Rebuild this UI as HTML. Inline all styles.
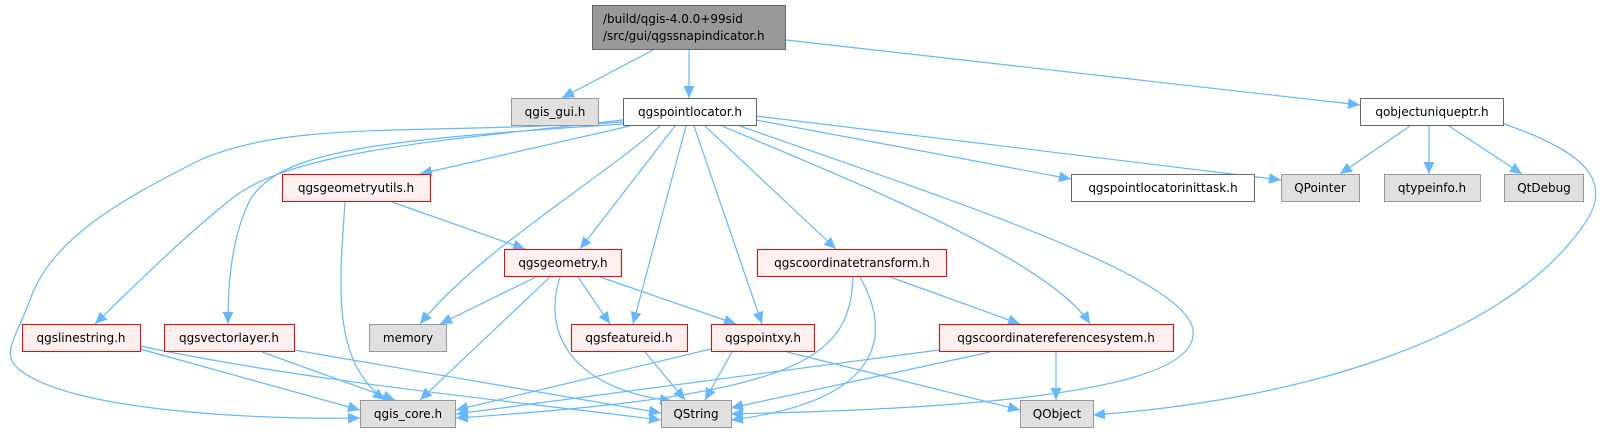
<!DOCTYPE html>
<html><head><meta charset="utf-8"><style>
html,body{margin:0;padding:0;background:#fff;}
svg{display:block;}
text{font-family:"DejaVu Sans","Liberation Sans",sans-serif;font-size:12px;fill:#000;}
.e{fill:none;stroke:#63b8ff;stroke-width:1.2;}
.w{fill:#fff;stroke:#666;stroke-width:1;}
.g{fill:#e0e0e0;stroke:#999;stroke-width:1;}
.r{fill:#fff0f0;stroke:#ff0000;stroke-width:1;}
</style></head><body>
<svg width="1603" height="434" viewBox="0 0 1603 434" xmlns="http://www.w3.org/2000/svg">
<defs><marker id="a" viewBox="0 0 10 10" refX="10" refY="5" markerWidth="12" markerHeight="12" markerUnits="userSpaceOnUse" orient="auto"><path d="M0,0.5 L10,5 L0,9.5 z" fill="#63b8ff"/></marker></defs>
<g marker-end="url(#a)">
<path class="e" d="M653,50 L562,98"/>
<path class="e" d="M689,50 L689,98"/>
<path class="e" d="M786,40 L1360,105"/>
<path class="e" d="M623,120 C450,140 290,150 230,200 C180,240 130,290 95,324"/>
<path class="e" d="M623,124 C380,140 280,150 250,200 C230,240 228,290 228,324"/>
<path class="e" d="M623,122 C420,135 290,120 200,160 C120,200 50,240 30,300 C15,340 0,355 20,370 C70,410 250,420 360,418"/>
<path class="e" d="M630,126 L420,174"/>
<path class="e" d="M660,126 C600,180 480,250 420,324"/>
<path class="e" d="M675,126 L580,249"/>
<path class="e" d="M686,126 L633,324"/>
<path class="e" d="M694,126 L762,324"/>
<path class="e" d="M705,126 L836,249"/>
<path class="e" d="M722,126 C850,180 1050,260 1090,324"/>
<path class="e" d="M740,126 C950,200 1200,280 1193,335 C1190,400 900,410 731,414"/>
<path class="e" d="M756,120 L1071,179"/>
<path class="e" d="M756,116 L1281,180"/>
<path class="e" d="M1410,126 L1340,174"/>
<path class="e" d="M1429,126 L1429,174"/>
<path class="e" d="M1449,126 L1522,174"/>
<path class="e" d="M1504,124 C1580,150 1620,180 1580,230 C1500,340 1300,400 1093,415"/>
<path class="e" d="M345,202 C340,280 330,360 385,400"/>
<path class="e" d="M392,202 L525,249"/>
<path class="e" d="M536,277 L440,324"/>
<path class="e" d="M550,277 L420,400"/>
<path class="e" d="M560,277 C540,340 580,390 672,401"/>
<path class="e" d="M578,277 L610,324"/>
<path class="e" d="M600,277 L736,324"/>
<path class="e" d="M853,277 C850,360 800,395 456,418"/>
<path class="e" d="M860,277 C890,330 890,400 731,420"/>
<path class="e" d="M890,277 L1020,324"/>
<path class="e" d="M140,349 L360,410"/>
<path class="e" d="M140,346 C300,380 500,400 661,420"/>
<path class="e" d="M262,352 L395,400"/>
<path class="e" d="M294,350 L661,413"/>
<path class="e" d="M645,352 L685,400"/>
<path class="e" d="M711,349 L456,410"/>
<path class="e" d="M732,352 L705,400"/>
<path class="e" d="M787,352 L1020,410"/>
<path class="e" d="M939,350 L456,414"/>
<path class="e" d="M990,352 L731,408"/>
<path class="e" d="M1056,352 L1056,400"/>
</g>
<rect class="g" x="592.5" y="5.5" width="193" height="44" style="fill:#999;stroke:#666"/>
<text x="603" y="23">/build/qgis-4.0.0+99sid</text>
<text x="603" y="40">/src/gui/qgssnapindicator.h</text>
<rect class="g" x="511.5" y="98.5" width="87" height="27"/><text x="555" y="116" text-anchor="middle">qgis_gui.h</text>
<rect class="w" x="623.5" y="98.5" width="133" height="27"/><text x="690" y="116" text-anchor="middle">qgspointlocator.h</text>
<rect class="w" x="1360.5" y="98.5" width="143" height="27"/><text x="1432" y="116" text-anchor="middle">qobjectuniqueptr.h</text>
<rect class="r" x="282.5" y="174.5" width="148" height="27"/><text x="356" y="192" text-anchor="middle">qgsgeometryutils.h</text>
<rect class="w" x="1071.5" y="174.5" width="183" height="27"/><text x="1163" y="192" text-anchor="middle">qgspointlocatorinittask.h</text>
<rect class="g" x="1281.5" y="174.5" width="78" height="27"/><text x="1320" y="192" text-anchor="middle">QPointer</text>
<rect class="g" x="1384.5" y="174.5" width="96" height="27"/><text x="1432" y="192" text-anchor="middle">qtypeinfo.h</text>
<rect class="g" x="1504.5" y="174.5" width="79" height="27"/><text x="1544" y="192" text-anchor="middle">QtDebug</text>
<rect class="r" x="504.5" y="249.5" width="117" height="27"/><text x="563" y="267" text-anchor="middle">qgsgeometry.h</text>
<rect class="r" x="757.5" y="249.5" width="189" height="27"/><text x="852" y="267" text-anchor="middle">qgscoordinatetransform.h</text>
<rect class="r" x="22.5" y="324.5" width="118" height="27"/><text x="81" y="342" text-anchor="middle">qgslinestring.h</text>
<rect class="r" x="164.5" y="324.5" width="130" height="27"/><text x="229" y="342" text-anchor="middle">qgsvectorlayer.h</text>
<rect class="g" x="369.5" y="324.5" width="77" height="27"/><text x="408" y="342" text-anchor="middle">memory</text>
<rect class="r" x="571.5" y="324.5" width="116" height="27"/><text x="629" y="342" text-anchor="middle">qgsfeatureid.h</text>
<rect class="r" x="711.5" y="324.5" width="103" height="27"/><text x="763" y="342" text-anchor="middle">qgspointxy.h</text>
<rect class="r" x="939.5" y="324.5" width="234" height="27"/><text x="1056" y="342" text-anchor="middle">qgscoordinatereferencesystem.h</text>
<rect class="g" x="360.5" y="400.5" width="95" height="27"/><text x="408" y="418" text-anchor="middle">qgis_core.h</text>
<rect class="g" x="661.5" y="400.5" width="70" height="27"/><text x="696" y="418" text-anchor="middle">QString</text>
<rect class="g" x="1020.5" y="400.5" width="73" height="27"/><text x="1057" y="418" text-anchor="middle">QObject</text>
</svg>
</body></html>
